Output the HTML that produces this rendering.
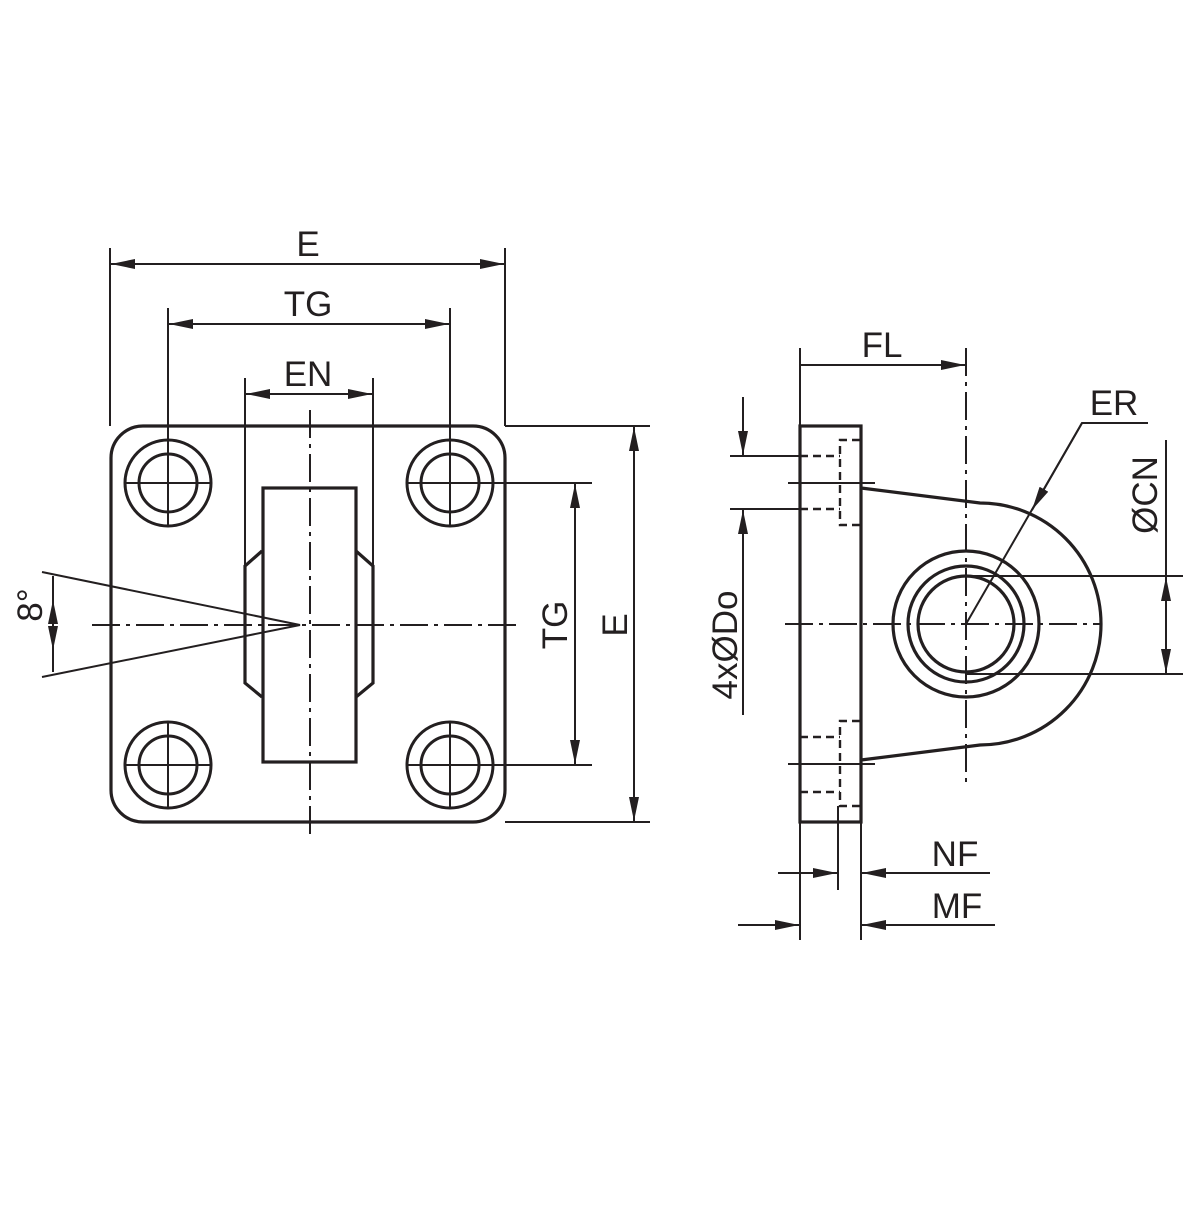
<!DOCTYPE html>
<html><head><style>
html,body{margin:0;padding:0;background:#fff;}
svg text{font-family:"Liberation Sans",sans-serif;font-size:35px;fill:#231f20;}
</style></head><body>
<svg width="1200" height="1200" viewBox="0 0 1200 1200" xmlns="http://www.w3.org/2000/svg">
<defs>
<marker id="a" viewBox="0 0 24 10" refX="24" refY="5" markerWidth="24" markerHeight="10" markerUnits="userSpaceOnUse" orient="auto-start-reverse">
<path d="M0,0 L24,5 L0,10 Z" fill="#231f20"/></marker>
</defs>
<g stroke="#231f20" fill="none" stroke-width="3.2">
<!-- left view body -->
<rect x="111" y="426" width="394" height="396" rx="32"/>
<g stroke-width="3">
<circle cx="168" cy="483" r="43"/><circle cx="168" cy="483" r="29"/>
<circle cx="450" cy="483" r="43"/><circle cx="450" cy="483" r="29"/>
<circle cx="168" cy="765" r="43"/><circle cx="168" cy="765" r="29"/>
<circle cx="450" cy="765" r="43"/><circle cx="450" cy="765" r="29"/>
</g>
<rect x="263" y="488" width="93" height="274"/>
<path d="M262,551 L245,566 L245,683 L262,697"/>
<path d="M356,551 L373,566 L373,683 L356,697"/>
</g>
<g stroke="#231f20" fill="none" stroke-width="2">
<!-- hole crosshairs -->
<path d="M125,483 H211 M168,440 V526 M407,483 H592 M450,440 V526 M125,765 H211 M168,722 V808 M407,765 H592 M450,722 V808"/>
<!-- centerlines -->
<path d="M310,410 V838" stroke-dasharray="28,6,4,6"/>
<path d="M92,625 H520" stroke-dasharray="28,6,4,6"/>
<!-- 8 deg -->
<path d="M42,572 L300,625 L42,677"/>
<path d="M53,600 V650" marker-start="url(#a)" marker-end="url(#a)"/>
<path d="M53,576 V672"/>
<!-- top dims -->
<path d="M110,248 V426 M505,248 V426 M168,308 V440 M450,308 V440 M245,378 V566 M373,378 V566"/>
<path d="M111,264 H504" marker-start="url(#a)" marker-end="url(#a)"/>
<path d="M169,324 H449" marker-start="url(#a)" marker-end="url(#a)"/>
<path d="M246,394 H372" marker-start="url(#a)" marker-end="url(#a)"/>
<!-- right dims of left view -->
<path d="M505,426 H650 M505,822 H650"/>
<path d="M575,484 V764" marker-start="url(#a)" marker-end="url(#a)"/>
<path d="M634,427 V821" marker-start="url(#a)" marker-end="url(#a)"/>
</g>
<!-- right view -->
<g stroke="#231f20" fill="none" stroke-width="3.2">
<rect x="800" y="426" width="61" height="396"/>
<path d="M861,488 L980,503 A121,121 0 0 1 980,745 L861,760"/>
<circle cx="966" cy="624" r="73"/>
<circle cx="966" cy="624" r="58"/>
<circle cx="966" cy="624" r="48"/>
</g>
<g stroke="#231f20" fill="none" stroke-width="2.4" stroke-dasharray="8,5">
<path d="M860,440 H840 V525 H860"/>
<path d="M800,456 H840 M800,509 H840"/>
<path d="M860,721 H840 V806 H860"/>
<path d="M800,737 H840 M800,792 H840"/>
</g>
<g stroke="#231f20" fill="none" stroke-width="2">
<path d="M788,483 H875 M788,764 H875"/>
<path d="M966,348 V785" stroke-dasharray="28,6,4,6"/>
<path d="M785,624 H1102" stroke-dasharray="28,6,4,6"/>
<!-- FL -->
<path d="M800,348 V426"/>
<path d="M801,365 H965" marker-end="url(#a)"/>
<!-- ER -->
<path d="M1148,423 H1082 L966,624"/>
<path d="M1082,423 L1032,510" marker-end="url(#a)"/>
<!-- CN -->
<path d="M966,576 H1183 M966,674 H1183"/>
<path d="M1166,440 V576"/>
<path d="M1166,577 V673" marker-start="url(#a)" marker-end="url(#a)"/>
<!-- Do -->
<path d="M730,456 H808 M730,509 H808"/>
<path d="M743,397 V455" marker-end="url(#a)"/>
<path d="M743,715 V510" marker-end="url(#a)"/>
<!-- NF MF -->
<path d="M800,822 V940 M861,822 V940 M838,806 V890"/>
<path d="M778,873 H837" marker-end="url(#a)"/>
<path d="M990,873 H862" marker-end="url(#a)"/>
<path d="M738,925 H799" marker-end="url(#a)"/>
<path d="M995,925 H862" marker-end="url(#a)"/>
</g>
<text x="308" y="256" text-anchor="middle">E</text>
<text x="308" y="316" text-anchor="middle">TG</text>
<text x="308" y="386" text-anchor="middle">EN</text>
<text transform="translate(567,625) rotate(-90)" text-anchor="middle">TG</text>
<text transform="translate(627,625) rotate(-90)" text-anchor="middle">E</text>
<text transform="translate(42,605) rotate(-90)" text-anchor="middle">8°</text>
<text x="882" y="357" text-anchor="middle">FL</text>
<text x="1114" y="415" text-anchor="middle">ER</text>
<text transform="translate(1157,495) rotate(-90)" text-anchor="middle">ØCN</text>
<text transform="translate(737,645) rotate(-90)" text-anchor="middle">4xØDo</text>
<text x="955" y="866" text-anchor="middle">NF</text>
<text x="957" y="918" text-anchor="middle">MF</text>
</svg>
</body></html>
